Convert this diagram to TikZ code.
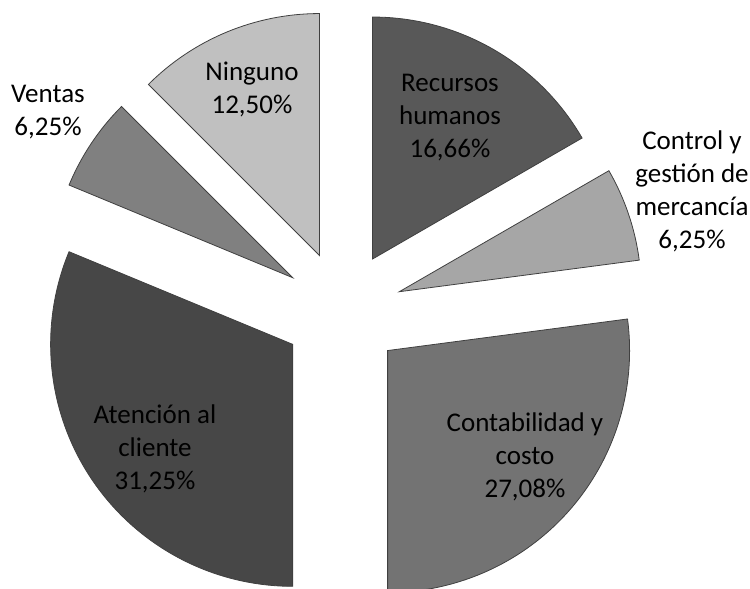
\documentclass[tikz,border=0pt]{standalone}
\usepackage{fontspec}
\setmainfont{Carlito}
\usetikzlibrary{calc}
\definecolor{cRH}{HTML}{585858}
\definecolor{cCG}{HTML}{A6A6A6}
\definecolor{cCC}{HTML}{737373}
\definecolor{cAC}{HTML}{474747}
\definecolor{cVE}{HTML}{808080}
\definecolor{cNI}{HTML}{C0C0C0}
\definecolor{cEdge}{HTML}{404040}
\tikzset{
  slice/.style={draw=cEdge, line width=0.8pt, line join=miter},
  lbl/.style={align=center, inner sep=0pt, font=\fontsize{27}{33}\selectfont, text=black},
}
\begin{document}
\begin{tikzpicture}[x=1pt,y=1pt]
\useasboundingbox (0,0) rectangle (750,589);
\clip (0,0) rectangle (750,589);
\coordinate (C) at (342.5,278);
\def\R{242}
\def\D{60}
% Recursos humanos
\fill[cRH] ($(C)+(60:\D)$) -- ++(90:\R) arc[start angle=90, end angle=30, radius=\R] -- cycle;
\draw[slice] ($(C)+(60:\D)$) -- ++(90:\R) arc[start angle=90, end angle=30, radius=\R] -- cycle;
% Control y gestion
\fill[cCG] ($(C)+(18.75:\D)$) -- ++(30:\R) arc[start angle=30, end angle=7.5, radius=\R] -- cycle;
\draw[slice] ($(C)+(18.75:\D)$) -- ++(30:\R) arc[start angle=30, end angle=7.5, radius=\R] -- cycle;
% Contabilidad
\fill[cCC] ($(C)+(-41.25:\D)$) -- ++(7.5:\R) arc[start angle=7.5, end angle=-90, radius=\R] -- cycle;
\draw[slice] ($(C)+(-41.25:\D)$) -- ++(7.5:\R) arc[start angle=7.5, end angle=-90, radius=\R] -- cycle;
% Atencion
\fill[cAC] ($(C)+(-146.25:\D)$) -- ++(-90:\R) arc[start angle=-90, end angle=-202.5, radius=\R] -- cycle;
\draw[slice] ($(C)+(-146.25:\D)$) -- ++(-90:\R) arc[start angle=-90, end angle=-202.5, radius=\R] -- cycle;
% Ventas
\fill[cVE] ($(C)+(-213.75:\D)$) -- ++(-202.5:\R) arc[start angle=-202.5, end angle=-225, radius=\R] -- cycle;
\draw[slice] ($(C)+(-213.75:\D)$) -- ++(-202.5:\R) arc[start angle=-202.5, end angle=-225, radius=\R] -- cycle;
% Ninguno
\fill[cNI] ($(C)+(-247.5:\D)$) -- ++(-225:\R) arc[start angle=-225, end angle=-270, radius=\R] -- cycle;
\draw[slice] ($(C)+(-247.5:\D)$) -- ++(-225:\R) arc[start angle=-225, end angle=-270, radius=\R] -- cycle;
% labels (y = 589 - image y)
\node[lbl] (lRH) at (450,471) {Recursos\\humanos\\16,66\%};
\node[lbl] (lCG) at (692,397.5) {Control y\\gestión de\\mercancía\\6,25\%};
\node[lbl] (lCC) at (525,132) {Contabilidad y\\costo\\27,08\%};
\node[lbl] (lAC) at (155,140) {Atención al\\cliente\\31,25\%};
\node[lbl] (lVE) at (48,476.5) {Ventas\\6,25\%};
\node[lbl] (lNI) at (252,500) {Ninguno\\12,50\%};
\end{tikzpicture}
\end{document}
